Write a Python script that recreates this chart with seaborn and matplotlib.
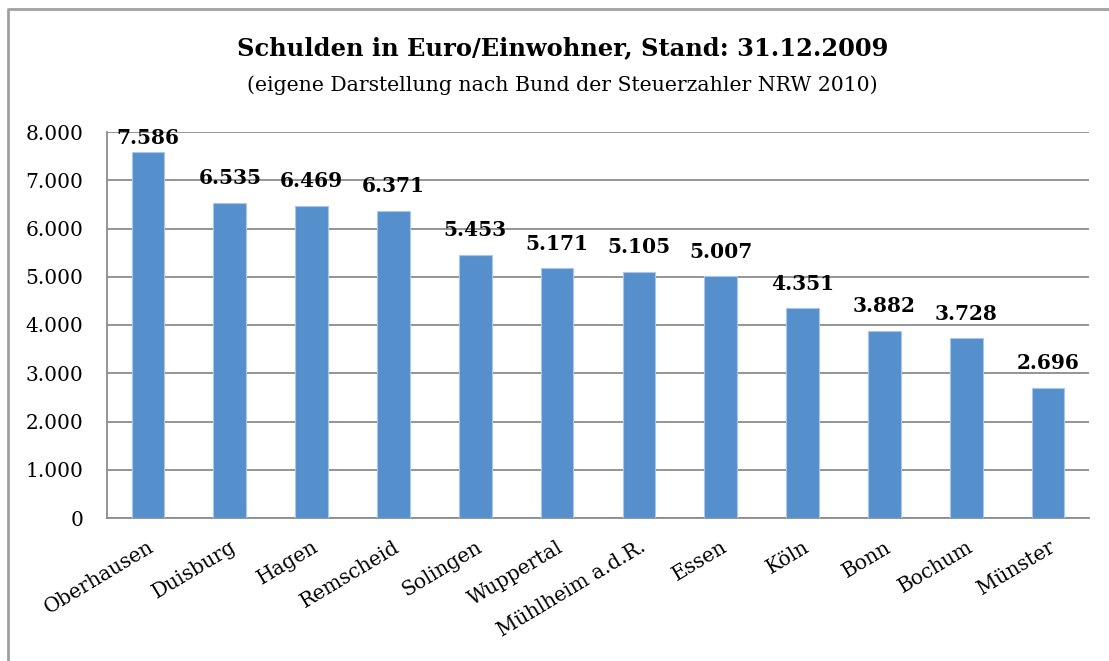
import matplotlib
matplotlib.use("Agg")
import matplotlib.pyplot as plt
import matplotlib.ticker as mticker
from matplotlib.lines import Line2D
import seaborn as sns
import pandas as pd

# Data
staedte = ["Oberhausen", "Duisburg", "Hagen", "Remscheid", "Solingen", "Wuppertal",
           "Mühlheim a.d.R.", "Essen", "Köln", "Bonn", "Bochum", "Münster"]
schulden = [7586, 6535, 6469, 6371, 5453, 5171, 5105, 5007, 4351, 3882, 3728, 2696]
y_ticks = [0, 1000, 2000, 3000, 4000, 5000, 6000, 7000, 8000]

df = pd.DataFrame({"Stadt": staedte, "Schulden": schulden})

sns.set_style("white")
plt.rcParams["font.family"] = ["DejaVu Serif"]
plt.rcParams["text.color"] = "black"
plt.rcParams["xtick.labelcolor"] = "black"
plt.rcParams["ytick.labelcolor"] = "black"

fig = plt.figure(figsize=(11.09, 6.61), dpi=100)
ax = fig.add_axes([107 / 1109, 1 - 518 / 661, (1089 - 107) / 1109, (518 - 132) / 661])

sns.barplot(data=df, x="Stadt", y="Schulden", color="#5590CC", width=0.4,
            saturation=1, edgecolor="#A9C6E8", linewidth=0.8, ax=ax, zorder=3)

# Value labels above the bars (kept inside the plot area like Excel does)
for bar, val in zip(ax.patches, schulden):
    ax.text(bar.get_x() + bar.get_width() / 2, min(val + 300, 7660),
            f"{val:,}".replace(",", "."), ha="center", va="bottom",
            fontsize=14.5, fontweight="bold", color="black", zorder=4)

ax.set_xlim(-0.5, len(staedte) - 0.5)
ax.set_ylim(0, 8000)
ax.set_yticks(y_ticks)
ax.yaxis.set_major_formatter(mticker.FuncFormatter(lambda v, p: f"{int(v):,}".replace(",", ".")))
ax.grid(axis="y", color="#8C8C8C", linewidth=1.3, zorder=0)
ax.set_axisbelow(True)

# x ticks: labels at centres, tick marks at boundaries
ax.set_xticks([i - 0.5 for i in range(len(staedte) + 1)], minor=True)
ax.tick_params(axis="x", which="major", length=0, pad=14)
ax.tick_params(axis="x", which="minor", length=6, width=1.3, color="#8C8C8C", direction="out")
ax.tick_params(axis="y", length=6, width=1.3, color="#8C8C8C", direction="out", labelsize=14.5, pad=11)
ax.set_xticks(range(len(staedte)))
ax.set_xticklabels(staedte, rotation=31, ha="right", rotation_mode="anchor", fontsize=14.5)

for side in ["top", "right"]:
    ax.spines[side].set_visible(False)
for side in ["left", "bottom"]:
    ax.spines[side].set_color("#8C8C8C")
    ax.spines[side].set_linewidth(1.3)

ax.set_xlabel("")
ax.set_ylabel("")

fig.text(0.507, 0.927, "Schulden in Euro/Einwohner, Stand: 31.12.2009",
         ha="center", va="center", fontsize=17.4, fontweight="bold")
fig.text(0.507, 0.871, "(eigene Darstellung nach Bund der Steuerzahler NRW 2010)",
         ha="center", va="center", fontsize=14.7)

# outer frame (left and top edges visible)
fig.add_artist(Line2D([8 / 1109, 8 / 1109, 1.0], [0.0, 1 - 9 / 661, 1 - 9 / 661],
                      transform=fig.transFigure, color="#A0A0A0", linewidth=2))

fig.savefig("out.png", dpi=100)
